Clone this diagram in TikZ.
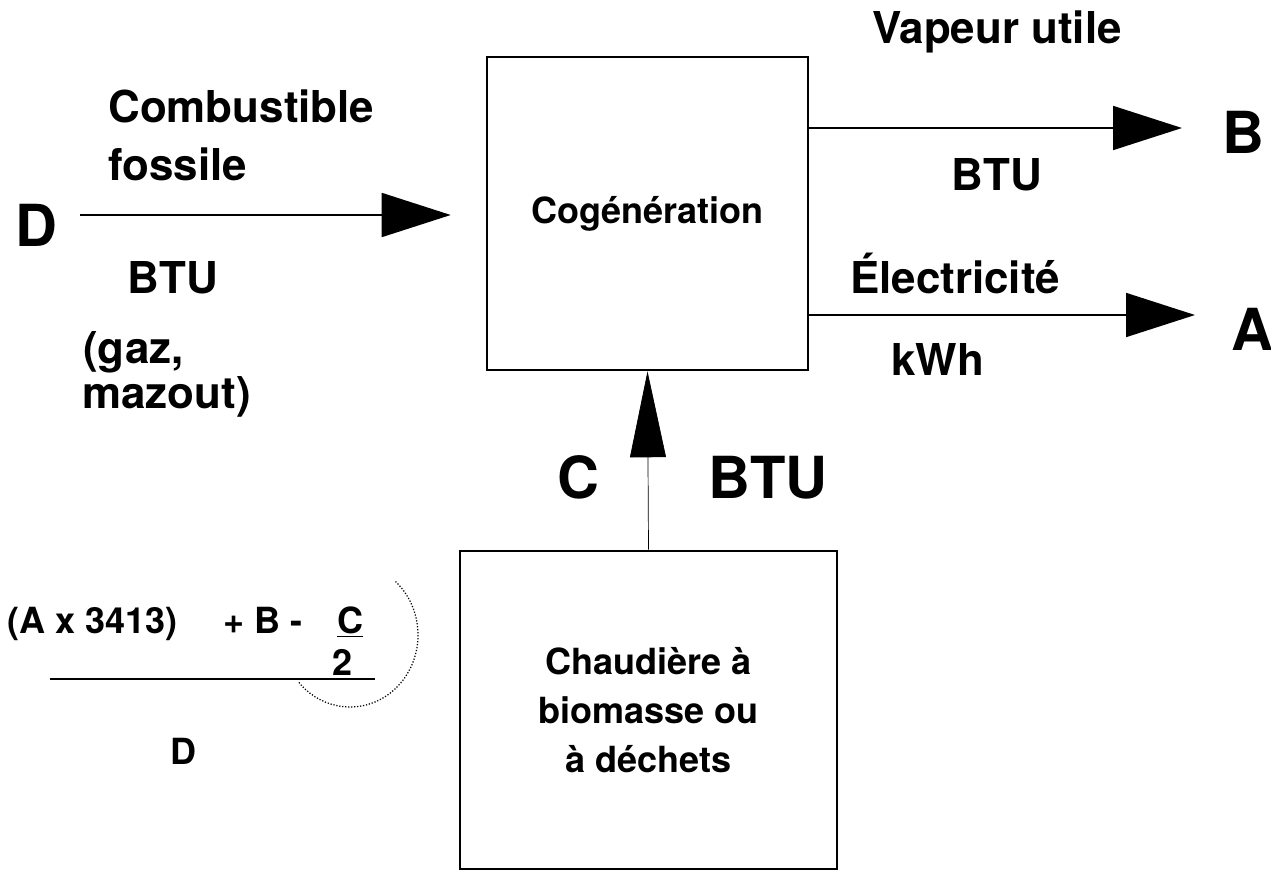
\documentclass[tikz,border=0pt]{standalone}
\usepackage{fontspec}
\setmainfont{TeX Gyre Heros}
\usetikzlibrary{arrows.meta}
\begin{document}
\begin{tikzpicture}[x=0.02cm, y=-0.02cm,
    big/.style={inner sep=0pt, font=\fontsize{33}{36}\selectfont\bfseries},
    mid/.style={inner sep=0pt, font=\fontsize{25}{30}\selectfont\bfseries},
    small/.style={inner sep=0pt, font=\fontsize{20.5}{27.8}\selectfont\bfseries},
    unit/.style={draw, line width=1.5pt, inner sep=0pt, align=center},
    flow/.style={line width=1pt, -{Triangle[length=1.38cm, width=0.88cm]}}]
  \useasboundingbox (0,0) rectangle (1271,872);

  % The two units: cogeneration plant on top, boiler below.
  \node[unit, small, minimum width=6.42cm, minimum height=6.26cm] (cogen)
    at (647.5,213.5) {Cogénération};
  \node[unit, small, minimum width=7.54cm, minimum height=6.36cm] (chaud)
    at (648.5,710) {Chaudière à\\biomasse ou\\à déchets};

  % Fossil fuel input D, from the left.
  \node[big] (D) at (36,225) {D};
  \node[mid, anchor=base west] (comb) at (108,122) {Combustible};
  \node[mid, anchor=base west] (foss) at (108,180) {fossile};
  \node[mid, anchor=base] (btuD) at (173,293) {BTU};
  \node[mid, anchor=base west] (gaz) at (83,363) {(gaz,};
  \node[mid, anchor=base west] (mazout) at (82,408) {mazout)};
  \coordinate (Dtail) at (80,215);
  \draw[flow, shorten >=0.7cm] (Dtail) -- (cogen.west |- Dtail);

  % Useful steam B and electricity A, to the right.
  \node[mid, anchor=base] (vapeur) at (997,43) {Vapeur utile};
  \node[mid, anchor=base] (btuB) at (997,190) {BTU};
  \node[big, anchor=base] (B) at (1243,153) {B};
  \coordinate (Btip) at (1182,128);
  \draw[flow] (cogen.east |- Btip) -- (Btip);

  \node[mid, anchor=base] (elec) at (955,293) {Électricité};
  \node[mid, anchor=base] (kwh) at (938,375) {kWh};
  \node[big, anchor=base] (A) at (1252,350) {A};
  \coordinate (Atip) at (1195,315);
  \draw[flow] (cogen.east |- Atip) -- (Atip);

  % Biomass heat C, from the boiler up into the plant.
  \node[big, anchor=base] (C) at (578,498) {C};
  \node[big, anchor=base] (btuC) at (768,498) {BTU};
  \draw[thin, -{Triangle[length=1.72cm, width=0.72cm]}] (chaud.north) -- (cogen.south);

  % Efficiency formula, bottom left.
  \node[small, anchor=base west] (num) at (7,633) {(A x 3413)};
  \node[small, anchor=base west] (plusB) at (223,633) {+ B -};
  \node[small, anchor=base] (Cnum) at (350,633) {\underline{C}};
  \node[small, anchor=base] (two) at (343,675) {2};
  \node[small, anchor=base] (Dden) at (184,764) {D};
  \draw[line width=1.6pt] (50,679) -- (375,679);
  % hand-drawn dotted loop round C/2 (y axis points down, so angles flip)
  \draw[densely dotted, line width=0.7pt] (350,635) ++(-48:68 and 72) arc[start angle=-48, end angle=140, x radius=68, y radius=72];
\end{tikzpicture}
\end{document}
